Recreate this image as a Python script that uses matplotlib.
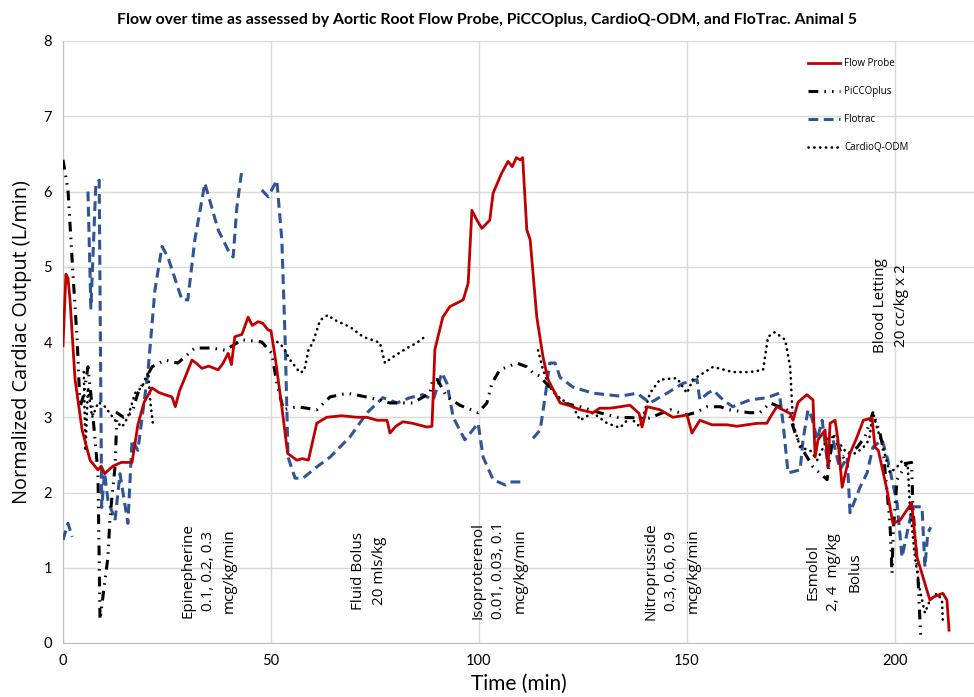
import numpy as np
import matplotlib
matplotlib.use("Agg")
import matplotlib.pyplot as plt

nan = np.nan

# series as (time min, cardiac output L/min) pairs, nan = gap
flow_probe = [(0, 3.95), (0.7, 4.9), (1.2, 4.85), (1.7, 4.55), (2.9, 3.5), (4.6, 2.83), (6.5, 2.43),
              (8.4, 2.3), (9.2, 2.35), (10, 2.25), (12, 2.35), (14, 2.4), (16.6, 2.4), (18, 2.9),
              (19.5, 3.2), (21.4, 3.39), (23, 3.33), (24.5, 3.3), (26.2, 3.27), (27, 3.14), (28, 3.35),
              (29.5, 3.55), (31, 3.76), (32, 3.72), (33.4, 3.65), (35, 3.68), (37.3, 3.63), (38.5, 3.72),
              (39.7, 3.85), (40.5, 3.7), (41.3, 4.07), (43, 4.1), (44.5, 4.33), (45.5, 4.22), (46.9, 4.27),
              (48, 4.25), (49.3, 4.16), (50, 4.15), (51, 3.8), (52.6, 3.14), (54, 2.52), (56.2, 2.43),
              (57.5, 2.45), (59, 2.43), (61, 2.92), (63.4, 3.0), (67, 3.02), (70.7, 3.0), (73, 3.0),
              (75.5, 2.96), (77.9, 2.96), (78.6, 2.79), (80, 2.88), (81.7, 2.94), (84, 2.92), (87.5, 2.87),
              (88.7, 2.88), (89.4, 3.9), (91.3, 4.33), (93, 4.47), (96.2, 4.56), (97.4, 4.78), (98.3, 5.75),
              (99.5, 5.62), (100.7, 5.51), (102.6, 5.62), (103.4, 5.98), (105.5, 6.25), (107, 6.4),
              (108, 6.33), (109, 6.45), (109.9, 6.42), (110.5, 6.45), (111.5, 5.49), (112.3, 5.36),
              (113.9, 4.33), (115.4, 3.8), (116.6, 3.5), (119.5, 3.19), (122, 3.15), (124.3, 3.1),
              (127.4, 3.06), (129, 3.12), (131.5, 3.12), (134, 3.14), (136.3, 3.16), (138.5, 3.05),
              (139.2, 2.87), (140.4, 3.14), (143.5, 3.1), (146.6, 3.0), (150, 3.03), (151.2, 2.79),
              (153.1, 2.96), (156, 2.9), (159.6, 2.9), (162, 2.88), (164.4, 2.9), (167, 2.92),
              (169.2, 2.92), (170, 3.0), (171.6, 3.14), (174.8, 3.05), (175.5, 2.96), (176.7, 3.2),
              (178.8, 3.3), (180.3, 3.23), (180.8, 2.47), (181.5, 2.7), (183.2, 2.83), (183.9, 2.34),
              (184.4, 2.92), (185.6, 2.96), (186.3, 2.7), (187.3, 2.07), (189.2, 2.52), (190.9, 2.74),
              (192.4, 2.96), (194.5, 2.99), (195.2, 2.6), (196, 2.56), (198.1, 2.03), (199.5, 1.59),
              (201.2, 1.63), (204, 1.86), (205.3, 1.14), (208.4, 0.57), (209.2, 0.61), (211.5, 0.66),
              (212.5, 0.57), (213, 0.17)]

piccoplus = [(0, 6.42), (1.2, 6.02), (2.4, 4.9), (3.4, 4.03), (4.1, 3.14), (5, 3.3), (6, 3.67), (7, 3.14),
             (8.4, 2.26), (8.9, 0.31), (10.8, 1.14), (11.3, 1.67), (12.5, 2.34), (13, 3.06), (14.5, 3.0),
             (16.6, 3.06), (18, 3.32), (21.4, 3.67), (24.5, 3.76), (27.6, 3.72), (31.7, 3.92), (35.8, 3.92),
             (39, 3.89), (43, 4.03), (47.8, 4.0), (50.2, 3.85), (51.4, 3.45), (53, 3.1), (56.2, 3.14),
             (61, 3.1), (64.2, 3.27), (68.3, 3.32), (73.8, 3.26), (78.6, 3.19), (84.1, 3.19), (88.2, 3.32),
             (88.9, 3.5), (90, 3.5), (92.3, 3.27), (95.4, 3.16), (99.8, 3.06), (101.9, 3.19), (103.1, 3.45),
             (105, 3.63), (109.1, 3.72), (111.5, 3.67), (113, 3.59), (114.5, 3.55), (117, 3.4), (120.2, 3.19),
             (124.3, 3.14), (129, 3.06), (133.2, 3.0), (138.7, 2.99), (141, 2.99), (146, 3.1), (150, 3.03),
             (152.4, 3.07), (154.8, 3.14), (158, 3.14), (160, 3.1), (165, 3.06), (167.5, 3.06), (170, 3.19),
             (174, 3.1), (174.8, 3.0), (176, 2.79), (177.9, 2.56), (180.3, 2.34), (183.7, 2.17), (185.1, 2.79),
             (187.5, 2.47), (190.9, 2.6), (192.8, 2.74), (194.7, 3.06), (196.4, 2.79), (197.1, 2.6),
             (198.8, 1.59), (199.3, 0.93), (199.6, 1.5), (200.5, 2.17), (202.9, 2.39), (204, 2.4),
             (204.3, 1.81), (205.5, 0.9), (206.2, 0.08)]

flotrac = [(0, 1.37), (1.2, 1.59), (2.2, 1.41), (nan, nan), (6.0, 6.0), (6.7, 4.45), (7.9, 6.1), (8.7, 6.15),
           (9.3, 1.8), (10.0, 2.26), (10.8, 1.9), (12.5, 1.63), (13.7, 2.25), (15.6, 1.59), (16.6, 2.7),
           (18, 2.56), (20.4, 3.59), (22.1, 4.69), (23.8, 5.27), (25.2, 5.13), (28.6, 4.56), (30, 4.56),
           (31.7, 5.36), (34.1, 6.11), (37.3, 5.49), (39.7, 5.22), (40.9, 5.13), (41.8, 5.79), (43, 6.29),
           (nan, nan), (47.8, 6.02), (49.3, 5.93), (51.4, 6.15), (52.6, 5.36), (53.4, 4.03), (54.1, 2.47),
           (55.8, 2.19), (57.7, 2.19), (61, 2.34), (64.2, 2.47), (69, 2.74), (73.1, 3.06), (76.9, 3.26),
           (80.3, 3.19), (83.4, 3.26), (86.5, 3.3), (89, 3.23), (91.1, 3.59), (92.3, 3.45), (93.8, 3.0),
           (96.6, 2.7), (99.8, 2.92), (101, 2.47), (103.4, 2.17), (106.3, 2.1), (107.5, 2.14), (110.6, 2.14),
           (nan, nan), (113, 2.72), (114.7, 2.83), (115.9, 3.27), (117, 3.72), (118.3, 3.72), (119.5, 3.53),
           (122.6, 3.4), (127.4, 3.32), (134, 3.28), (138, 3.32), (141.1, 3.19), (145.2, 3.32), (149, 3.45),
           (152.4, 3.5), (153.1, 3.23), (155, 3.32), (156.3, 3.36), (158.7, 3.23), (161, 3.14), (165.1, 3.23),
           (169.2, 3.26), (172.2, 3.32), (173.1, 2.92), (174.3, 2.26), (177.2, 2.3), (177.9, 2.7), (179.1, 3.1),
           (180, 3.0), (181.3, 2.7), (182.5, 2.96), (183.9, 2.34), (185.1, 2.7), (186.8, 2.3), (188.5, 2.47),
           (189.2, 1.73), (191.6, 2.07), (193.3, 2.26), (194.7, 2.6), (196.9, 2.7), (198.3, 2.43),
           (200.5, 1.86), (201.7, 1.14), (202.9, 1.46), (204.3, 1.81), (206.5, 1.81), (207.2, 1.01),
           (207.9, 1.46), (208.6, 1.54)]

cardioq = [(5.0, 3.6), (5.4, 2.55), (6.0, 3.4), (7.0, 3.0), (8.5, 3.2), (10.1, 3.14), (12.5, 2.96),
           (14.2, 2.87), (15.6, 3.0), (17.3, 3.32), (19, 3.4), (20.5, 3.6), (21.0, 3.2), (21.6, 2.92),
           (nan, nan), (51.5, 4.0), (53, 3.93), (54.6, 3.76), (57, 3.59), (58, 3.62), (59, 3.89), (60.1, 4.0),
           (61.8, 4.29), (63.7, 4.36), (65, 4.3), (69, 4.2), (72.1, 4.07), (76.2, 3.99), (77.4, 3.72),
           (79.3, 3.8), (82.7, 3.92), (85.1, 3.99), (87, 4.07), (nan, nan), (114.2, 3.89), (115.4, 3.63),
           (117, 3.4), (119.5, 3.25), (122.6, 3.14), (124.3, 2.96), (127.4, 3.06), (130.8, 2.92),
           (133.9, 2.86), (136.3, 3.0), (138.7, 2.87), (141.1, 3.32), (143.5, 3.5), (147.6, 3.52),
           (150, 3.32), (151.4, 3.5), (156.3, 3.67), (161, 3.6), (165.1, 3.6), (168.3, 3.63), (169.5, 4.07),
           (171.1, 4.13), (173.6, 4.03), (174.8, 3.67), (175.5, 2.92), (177.2, 2.6), (179.6, 2.56),
           (181.3, 2.43), (184.4, 2.79), (186, 2.7), (188.5, 2.52), (190.5, 2.52), (192.4, 2.6), (193.8, 2.7),
           (194.7, 3.07), (195.5, 2.9), (197.1, 2.6), (198.8, 2.26), (200.5, 2.34), (201.9, 2.43),
           (203.1, 2.34), (203.6, 1.81), (204.8, 1.14), (206, 0.7), (207.2, 0.4), (208.4, 0.57),
           (210.1, 0.66), (211.3, 0.57), (211.5, 0.3)]

# event annotations: (time, level, text)
events = [(35, 0.96, "Epinepherine\n0.1, 0.2, 0.3\nmcg/kg/min"),
          (73.5, 0.96, "Fluid Bolus\n20 mls/kg"),
          (104.8, 0.96, "Isoproterenol\n0.01, 0.03, 0.1\nmcg/kg/min"),
          (146.4, 0.96, "Nitroprusside\n0.3, 0.6, 0.9\nmcg/kg/min"),
          (185.3, 0.94, "Esmolol\n2, 4  mg/kg\nBolus"),
          (199, 4.49, "Blood Letting\n20 cc/kg x 2")]

narrow = ['Lato', 'DejaVu Sans']
plain = ['Open Sans', 'DejaVu Sans']

fig = plt.figure(figsize=(9.74, 6.97), dpi=100)
ax = fig.add_axes([63 / 974, 1 - 643 / 697, 1 - 63 / 974, (643 - 41) / 697])

def xy(series):
    a = np.array(series, dtype=float)
    return a[:, 0], a[:, 1]

t, v = xy(flow_probe)
ax.plot(t, v, color='#c00000', lw=2.0, label='Flow Probe', zorder=5)
t, v = xy(piccoplus)
ax.plot(t, v, color='black', lw=2.2, dashes=(3.2, 2.0, 0.5, 2.0, 0.5, 2.0), label='PiCCOplus', zorder=4)
t, v = xy(flotrac)
ax.plot(t, v, color='#2f5597', lw=2.2, dashes=(3.2, 1.8), label='Flotrac', zorder=3)
t, v = xy(cardioq)
ax.plot(t, v, color='black', lw=1.9, dashes=(0.1, 2.1), dash_capstyle='round', label='CardioQ-ODM', zorder=4)

for ex, ey, txt in events:
    ax.text(ex, ey, txt, rotation=90, ha='center', va='center', multialignment='center',
            fontsize=11, family=plain, linespacing=1.55)

ax.set_xlim(0, 219)
ax.set_ylim(0, 8)
ax.set_xticks([0, 50, 100, 150, 200])
ax.set_yticks(range(0, 9))
ax.grid(True, color='#d9d9d9', lw=1)
ax.set_axisbelow(True)
for s in ['top', 'right']:
    ax.spines[s].set_visible(False)
for s in ['left', 'bottom']:
    ax.spines[s].set_color('#bfbfbf')
ax.tick_params(length=0, labelsize=10.5, pad=8)
for lab in ax.get_xticklabels() + ax.get_yticklabels():
    lab.set_family(narrow)

ax.set_xlabel('Time (min)', fontsize=15, family=narrow, labelpad=4)
ax.set_ylabel('Normalized Cardiac Output (L/min)', fontsize=14.3, family=plain, labelpad=8)
fig.suptitle('Flow over time as assessed by Aortic Root Flow Probe, PiCCOplus, CardioQ-ODM, and FloTrac. Animal 5',
             fontsize=11.4, fontweight='bold', family=narrow, y=0.982)

ax.legend(loc='upper left', bbox_to_anchor=(0.813, 0.978), frameon=False, prop={'family': plain, 'size': 7},
          handlelength=3.3, labelspacing=1.75, handletextpad=0.5, borderaxespad=0)

fig.savefig('out.png', dpi=100)
